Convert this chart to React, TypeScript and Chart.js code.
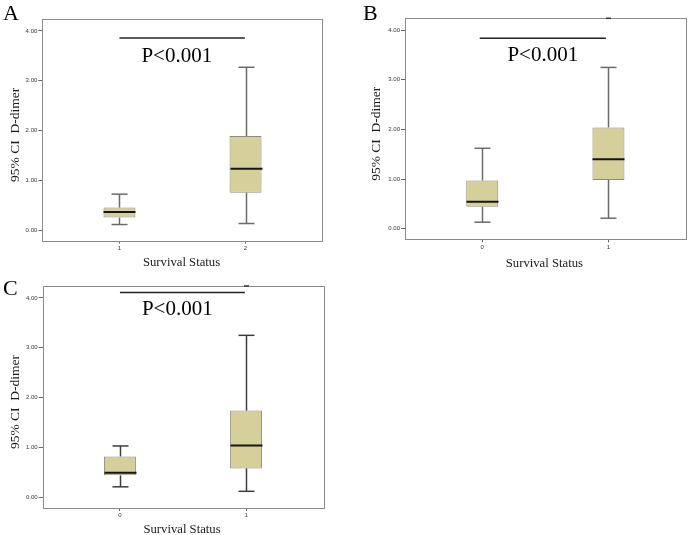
import React, { useEffect, useRef } from "react";
import { Chart, registerables } from "chart.js";

Chart.register(...registerables);

// ---------- shared axis / text data ----------
const Y_TICKS = [0, 1, 2, 3, 4];
const Y_MIN = -0.215;
const Y_MAX = 4.24;
const X_MIN = -0.612;
const X_MAX = 1.612;

const P_LABEL = "P<0.001";
const X_TITLE = "Survival Status";
const Y_TITLE = "95% CI  D-dimer";

// ---------- Panel A ----------
const A_GROUPS = ["1", "2"];
const A_LOW = [0.11, 0.13];
const A_Q1 = [0.25, 0.75];
const A_MEDIAN = [0.36, 1.23];
const A_Q3 = [0.45, 1.89];
const A_HIGH = [0.72, 3.27];
const A_OUTLIERS: (number | null)[] = [null, null];
const A_SIG_LINE = 3.86;
const A_P_BASE = 3.38;

// ---------- Panel B ----------
const B_GROUPS = ["0", "1"];
const B_LOW = [0.13, 0.21];
const B_Q1 = [0.44, 0.98];
const B_MEDIAN = [0.54, 1.4];
const B_Q3 = [0.97, 2.04];
const B_HIGH = [1.62, 3.25];
const B_OUTLIERS: (number | null)[] = [null, 4.24];
const B_SIG_LINE = 3.84;
const B_P_BASE = 3.37;

// ---------- Panel C ----------
const C_GROUPS = ["0", "1"];
const C_LOW = [0.21, 0.12];
const C_Q1 = [0.44, 0.58];
const C_MEDIAN = [0.49, 1.04];
const C_Q3 = [0.82, 1.74];
const C_HIGH = [1.03, 3.25];
const C_OUTLIERS: (number | null)[] = [null, 4.24];
const C_SIG_LINE = 4.11;
const C_P_BASE = 3.66;

const SERIF = "'Liberation Serif', 'Times New Roman', serif";
const SANS = "'Liberation Sans', Arial, sans-serif";

type Panel = {
  letter: string;
  groups: string[];
  low: number[];
  q1: number[];
  median: number[];
  q3: number[];
  high: number[];
  outliers: (number | null)[];
  sig: number;
  sigFrom: number;
  sigTo: number;
  pBase: number;
  pX: number;
  left: number;
  top: number;
  width: number;
  height: number;
  pad: { left: number; top: number; right: number };
  xAxisH: number;
  letterX: number;
  letterY: number;
  yTitleDx: number;
  xTitleDy: number;
  whisker: string;
};

const PANELS: Panel[] = [
  {
    letter: "A", groups: A_GROUPS, low: A_LOW, q1: A_Q1, median: A_MEDIAN, q3: A_Q3, high: A_HIGH,
    outliers: A_OUTLIERS, sig: A_SIG_LINE, sigFrom: 0, sigTo: 0.995, pBase: A_P_BASE, pX: 0.455,
    left: 0, top: 0, width: 345, height: 270, pad: { left: 0, top: 19, right: 22.3 }, xAxisH: 29.3,
    letterX: 3, letterY: 20, yTitleDx: -27.3, xTitleDy: 25.3, whisker: "#6a6a6a",
  },
  {
    letter: "B", groups: B_GROUPS, low: B_LOW, q1: B_Q1, median: B_MEDIAN, q3: B_Q3, high: B_HIGH,
    outliers: B_OUTLIERS, sig: B_SIG_LINE, sigFrom: -0.02, sigTo: 0.98, pBase: B_P_BASE, pX: 0.48,
    left: 345, top: 0, width: 344, height: 270, pad: { left: 17.7, top: 18.3, right: 3.3 }, xAxisH: 30.7,
    letterX: 18, letterY: 20, yTitleDx: -28.3, xTitleDy: 27.5, whisker: "#6a6a6a",
  },
  {
    letter: "C", groups: C_GROUPS, low: C_LOW, q1: C_Q1, median: C_MEDIAN, q3: C_Q3, high: C_HIGH,
    outliers: C_OUTLIERS, sig: C_SIG_LINE, sigFrom: 0, sigTo: 0.99, pBase: C_P_BASE, pX: 0.455,
    left: 0, top: 270, width: 345, height: 265, pad: { left: 0.4, top: 16, right: 21.7 }, xAxisH: 27,
    letterX: 3, letterY: 25, yTitleDx: -27.7, xTitleDy: 24.6, whisker: "#3c3c3c",
  },
];

const BOX_WIDTH = 0.2535; // in category units
const CAP_WIDTH = 0.127;

function makeExtras(p: Panel) {
  return {
    id: "boxExtras" + p.letter,
    beforeDatasetsDraw(chart: any) {
      const { ctx, chartArea: a } = chart;
      ctx.save();
      ctx.strokeStyle = "#8a8a8a";
      ctx.lineWidth = 1;
      ctx.strokeRect(Math.round(a.left) + 0.5, Math.round(a.top) + 0.5, Math.round(a.right - a.left), Math.round(a.bottom - a.top));
      ctx.restore();
    },
    afterDatasetsDraw(chart: any) {
      const { ctx } = chart;
      const xs = chart.scales.x;
      const ys = chart.scales.y;
      const line = (x1: number, y1: number, x2: number, y2: number) => {
        ctx.beginPath();
        ctx.moveTo(x1, y1);
        ctx.lineTo(x2, y2);
        ctx.stroke();
      };
      ctx.save();
      const capHalf = (xs.getPixelForValue(CAP_WIDTH) - xs.getPixelForValue(0)) / 2;
      const boxHalf = (xs.getPixelForValue(BOX_WIDTH) - xs.getPixelForValue(0)) / 2;
      for (let i = 0; i < p.groups.length; i++) {
        const cx = Math.round(xs.getPixelForValue(i)) + 0.5;
        ctx.strokeStyle = p.whisker;
        ctx.lineWidth = 1.5;
        line(cx, ys.getPixelForValue(p.q3[i]), cx, ys.getPixelForValue(p.high[i]));
        line(cx, ys.getPixelForValue(p.q1[i]), cx, ys.getPixelForValue(p.low[i]));
        line(cx - capHalf, ys.getPixelForValue(p.high[i]), cx + capHalf, ys.getPixelForValue(p.high[i]));
        line(cx - capHalf, ys.getPixelForValue(p.low[i]), cx + capHalf, ys.getPixelForValue(p.low[i]));
        ctx.strokeStyle = "#141414";
        ctx.lineWidth = 2;
        line(cx - boxHalf, ys.getPixelForValue(p.median[i]), cx + boxHalf, ys.getPixelForValue(p.median[i]));
        const o = p.outliers[i];
        if (o !== null && o !== undefined) {
          ctx.strokeStyle = "#333333";
          ctx.lineWidth = 1.5;
          line(cx - 2.5, ys.getPixelForValue(o), cx + 2.5, ys.getPixelForValue(o));
        }
      }
      // significance bar
      ctx.strokeStyle = "#222222";
      ctx.lineWidth = 1.5;
      const sy = ys.getPixelForValue(p.sig);
      line(xs.getPixelForValue(p.sigFrom), sy, xs.getPixelForValue(p.sigTo), sy);
      ctx.restore();
    },
    afterDraw(chart: any) {
      const { ctx, chartArea: a } = chart;
      const xs = chart.scales.x;
      const ys = chart.scales.y;
      ctx.save();
      ctx.fillStyle = "#000000";
      // P value
      ctx.font = `21px ${SERIF}`;
      ctx.textAlign = "center";
      ctx.textBaseline = "alphabetic";
      ctx.fillText(P_LABEL, xs.getPixelForValue(p.pX), ys.getPixelForValue(p.pBase));
      // panel letter
      ctx.font = `22px ${SERIF}`;
      ctx.textAlign = "left";
      ctx.fillText(p.letter, p.letterX, p.letterY);
      // x title
      ctx.fillStyle = "#1a1a1a";
      ctx.font = `12.7px ${SERIF}`;
      ctx.textAlign = "center";
      ctx.fillText(X_TITLE, (a.left + a.right) / 2 - 1, a.bottom + p.xTitleDy);
      // y title
      ctx.translate(a.left + p.yTitleDx, (a.top + a.bottom) / 2 + 5);
      ctx.rotate(-Math.PI / 2);
      ctx.font = `13.5px ${SERIF}`;
      ctx.textBaseline = "middle";
      ctx.fillText(Y_TITLE, 0, 0);
      ctx.restore();
    },
  };
}

function BoxPanel({ p }: { p: Panel }) {
  const ref = useRef<HTMLCanvasElement | null>(null);
  useEffect(() => {
    if (!ref.current) return;
    const chart = new Chart(ref.current, {
      type: "bar",
      data: {
        datasets: [
          {
            data: p.groups.map((_, i) => ({ x: i, y: [p.q1[i], p.q3[i]] })) as any,
            backgroundColor: "#d4cf9b",
            borderColor: "#8c8a74",
            borderWidth: 1,
            borderSkipped: false,
            barPercentage: BOX_WIDTH,
            categoryPercentage: 1,
          },
        ],
      },
      options: {
        responsive: false,
        animation: false,
        layout: { padding: { left: p.pad.left, top: p.pad.top, right: p.pad.right, bottom: 0 } },
        plugins: { legend: { display: false }, tooltip: { enabled: false } },
        scales: {
          x: {
            type: "linear",
            min: X_MIN,
            max: X_MAX,
            offset: false,
            afterBuildTicks: (s: any) => {
              s.ticks = p.groups.map((_, i) => ({ value: i }));
            },
            afterFit: (s: any) => {
              s.height = p.xAxisH;
            },
            ticks: {
              callback: (v: any) => p.groups[Number(v)] ?? "",
              font: { family: SANS, size: 6 },
              color: "#333333",
              padding: 1,
              maxRotation: 0,
              autoSkip: false,
            },
            grid: { offset: false, drawOnChartArea: false, drawTicks: true, tickLength: 3, color: "#666666" },
            border: { display: false },
          },
          y: {
            type: "linear",
            min: Y_MIN,
            max: Y_MAX,
            afterBuildTicks: (s: any) => {
              s.ticks = Y_TICKS.map((v) => ({ value: v }));
            },
            afterFit: (s: any) => {
              s.width = 42.3;
            },
            ticks: {
              callback: (v: any) => Number(v).toFixed(2),
              font: { family: SANS, size: 6 },
              color: "#333333",
              padding: 1,
            },
            grid: { drawOnChartArea: false, drawTicks: true, tickLength: 4, color: "#666666" },
            border: { display: false },
          },
        },
      } as any,
      plugins: [makeExtras(p)],
    });
    return () => chart.destroy();
  }, [p]);
  return (
    <canvas
      ref={ref}
      width={p.width}
      height={p.height}
      style={{ position: "absolute", left: p.left, top: p.top, width: p.width, height: p.height }}
    />
  );
}

export default function App() {
  return (
    <div style={{ position: "absolute", left: 0, top: 0, width: 689, height: 535, background: "#ffffff" }}>
      {PANELS.map((p) => (
        <BoxPanel key={p.letter} p={p} />
      ))}
    </div>
  );
}
